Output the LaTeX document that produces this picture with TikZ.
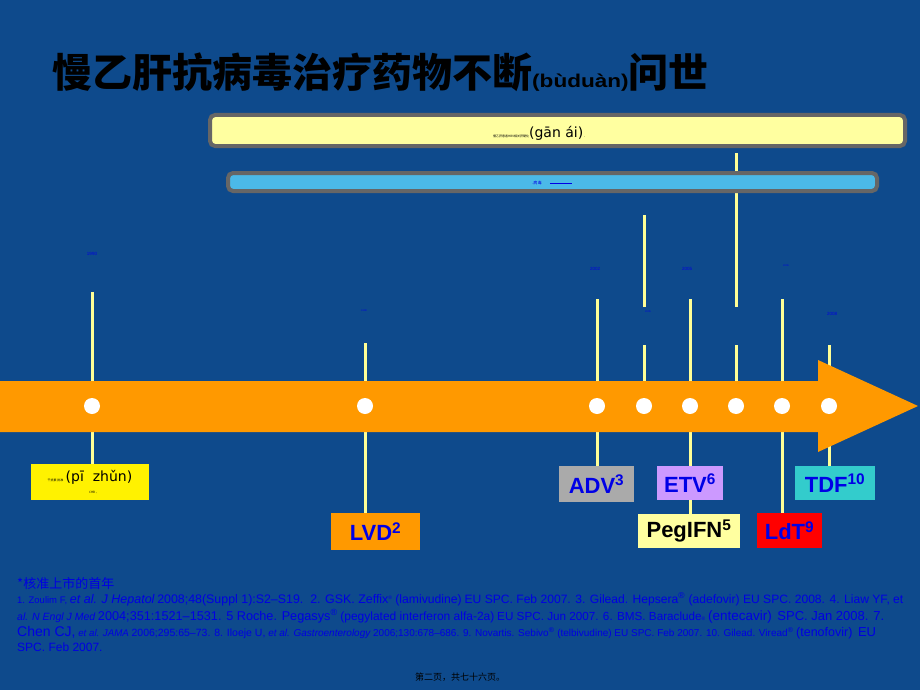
\documentclass[tikz,border=0pt]{standalone}
\usepackage{fontspec}
\setmainfont{Liberation Sans}
\newfontfamily\cjk{Noto Sans CJK SC}
\newfontfamily\dvs{DejaVu Sans}
\newcommand{\fsz}[1]{\fontsize{#1}{#1}\selectfont}
\definecolor{bgblue}{RGB}{14,74,140}
\definecolor{arroworange}{RGB}{255,153,0}
\definecolor{lineyel}{RGB}{255,255,150}
\definecolor{paleyel}{RGB}{255,255,160}
\definecolor{barblue}{RGB}{75,185,232}
\definecolor{bargray}{RGB}{102,102,102}
\definecolor{fnblue}{RGB}{0,0,225}
\definecolor{txtblue}{RGB}{0,0,230}
\definecolor{advgray}{RGB}{170,170,170}
\definecolor{etvlav}{RGB}{204,153,255}
\definecolor{tdfteal}{RGB}{51,204,204}
\tikzset{
  vline/.style={draw=lineyel, line width=3pt},
  dotnode/.style={circle, fill=white, minimum size=16pt, inner sep=0pt},
  drugbox/.style={inner sep=0pt, font=\bfseries\fsz{22}, text=txtblue},
  yrlabel/.style={inner sep=0pt, text=fnblue},
  fnline/.style={anchor=base west, inner sep=0pt, text=fnblue},
  barstyle/.style={draw=bargray, line width=4pt, rounded corners=5pt}
}
\begin{document}
\begin{tikzpicture}[x=1pt,y=-1pt]
\fill[bgblue] (0,0) rectangle (920,690);
\useasboundingbox (0,0) rectangle (920,690);

% title
\node[anchor=west, inner sep=0pt] (title) at (52,72)
  {\cjk\bfseries\fsz{40}慢乙肝抗病毒治疗药物不断{\rmfamily\bfseries\fsz{18.5}\scalebox{1.22}[1]{(bùduàn)}}问世};

% top coordinates of the vertical lines
\coordinate (t1) at (92,292);
\coordinate (t2) at (365,343);
\coordinate (t3) at (597,299);
\coordinate (t4a) at (644,215);
\coordinate (t4b) at (644,307);
\coordinate (t4c) at (644,345);
\coordinate (t5) at (690,299);
\coordinate (t6a) at (736,153);
\coordinate (t6b) at (736,307);
\coordinate (t6c) at (736,345);
\coordinate (t7) at (782,299);
\coordinate (t8) at (829,345);

% dots
\node[dotnode] (d1) at (92,406) {};
\node[dotnode] (d2) at (365,406) {};
\node[dotnode] (d3) at (597,406) {};
\node[dotnode] (d4) at (644,406) {};
\node[dotnode] (d5) at (690,406) {};
\node[dotnode] (d6) at (736,406) {};
\node[dotnode] (d7) at (782,406) {};
\node[dotnode] (d8) at (829,406) {};

% boxes
\node[drugbox, fill=yellow, minimum width=118pt, minimum height=36pt, text=black, font=\fsz{14}, align=center] (ifn) at (90,482)
  {{\cjk\fsz{3}干扰素 批准}\,{\dvs\fsz{14}(pī\ \ zhǔn)}\\[-2pt]{\cjk\fsz{3}\hspace{8pt}CHB 。}};
\node[drugbox, fill=arroworange, minimum width=89pt, minimum height=37pt] (lvd) at (375.5,531.5) {LVD\textsuperscript{2}};
\node[drugbox, fill=advgray, minimum width=75pt, minimum height=36pt] (adv) at (596.5,484) {ADV\textsuperscript{3}};
\node[drugbox, fill=etvlav, minimum width=66pt, minimum height=34pt] (etv) at (690,483) {ETV\textsuperscript{6}};
\node[drugbox, fill=paleyel, minimum width=102pt, minimum height=34pt, text=black] (peg) at (689,531) {PegIFN\textsuperscript{5}};
\node[drugbox, fill=red, minimum width=65pt, minimum height=35pt] (ldt) at (789.5,530.5) {LdT\textsuperscript{9}};
\node[drugbox, fill=tdfteal, minimum width=80pt, minimum height=34pt] (tdf) at (835,483) {TDF\textsuperscript{10}};

% vertical lines (behind arrow and bars)
\draw[vline] (t1) -- (t1 |- ifn.north);
\draw[vline] (t2) -- (t2 |- lvd.north);
\draw[vline] (t3) -- (t3 |- adv.north);
\draw[vline] (t4a) -- (t4b);
\draw[vline] (t4c) -- (d4);
\draw[vline] (t5) -- (etv.north);
\draw[vline] (etv.south) -- (etv.south |- peg.north);
\draw[vline] (t6a) -- (t6b);
\draw[vline] (t6c) -- (d6);
\draw[vline] (t7) -- (t7 |- ldt.north);
\draw[vline] (t8) -- (t8 |- tdf.north);

% arrow
\fill[arroworange] (0,381) -- (818,381) -- (818,360) -- (918,406) -- (818,452) -- (818,432) -- (0,432) -- cycle;

% dots on top of the arrow
\foreach \p in {92,365,597,644,690,736,782,829}
  \fill[white] (\p,406) circle (8pt);

% bars
\draw[barstyle, fill=paleyel] (210,115) rectangle (905,146);
\node[anchor=west, inner sep=0pt] (bartxt1) at (493,133)
  {{\cjk\fsz{3}慢乙肝患者HBV相关肝硬化}{\dvs\fsz{14}(gān ái)}{\fsz{4}\,.}};
\draw[barstyle, fill=barblue] (228,173) rectangle (877,191);
\node[anchor=west, inner sep=0pt, text=txtblue] (bartxt2) at (532,183)
  {{\cjk\fsz{4}.病\,毒}\hspace{8pt}{\fsz{4}\rule[0.5pt]{22pt}{0.8pt}}};

% year labels
\node[yrlabel, font=\fsz{4.5}] (y1) at (92,254) {1990};
\node[yrlabel, font=\fsz{2.5}] (y2) at (364,311) {1998};
\node[yrlabel, font=\fsz{4.5}] (y3) at (595,269) {2002};
\node[yrlabel, font=\fsz{2.5}] (y4) at (648,312) {2005};
\node[yrlabel, font=\fsz{4.5}] (y5) at (687,269) {2005};
\node[yrlabel, font=\fsz{2.5}] (y6) at (786,266) {2006};
\node[yrlabel, font=\fsz{4.5}] (y7) at (832,314) {2008};

% footnotes
\node[anchor=base west, inner sep=0pt, text=fnblue] (fn0) at (17,588) {\cjk\fsz{13}*核准上市的首年};
\node[fnline] (fn1) at (17,603)
  {{\fsz{9.5}1. Zoulim F,} {\fsz{12.5}\itshape et al. J Hepatol} {\fsz{12.4}2008;48(Suppl 1):S2–S19.\ \ 2. GSK. Zeffix}{\fsz{7}\textsuperscript{®}}\ {\fsz{12.2}(lamivudine)} {\fsz{12.1}EU SPC. Feb 2007. 3. Gilead. Hepsera\textsuperscript{®} (adefovir) EU SPC. 2008. 4. Liaw YF, et}};
\node[fnline] (fn2) at (17,620)
  {{\fsz{10.5}\itshape al. N Engl J Med} {\fsz{12.7}2004;351:1521–1531. 5 Roche. Pegasys\textsuperscript{®}} {\fsz{12}(pegylated interferon alfa-2a)} {\fsz{11.7}EU SPC. Jun 2007. 6. BMS. Baraclude}{\fsz{5}®} {\fsz{13.5}(entecavir)}\ \ {\fsz{13}SPC. Jan 2008. 7.}};
\node[fnline] (fn3) at (17,636)
  {{\fsz{14}Chen CJ,} {\fsz{9.7}\itshape et al. JAMA} {\fsz{10.5}2006;295:65–73. 8. Iloeje U,} {\fsz{10}\itshape et al. Gastroenterology}{\fsz{10} 2006;130:678–686. 9. Novartis. Sebivo\textsuperscript{®} (telbivudine) EU SPC. Feb 2007. 10. Gilead. Viread\textsuperscript{®}} {\fsz{12.5}(tenofovir)}\ \ {\fsz{13}EU}};
\node[fnline] (fn4) at (17,651) {\fsz{12}SPC. Feb 2007.};

% page number
\node[inner sep=0pt, text=black] (pg) at (460,677) {\cjk\fsz{9}第二页，共七十六页。};
\end{tikzpicture}
\end{document}
